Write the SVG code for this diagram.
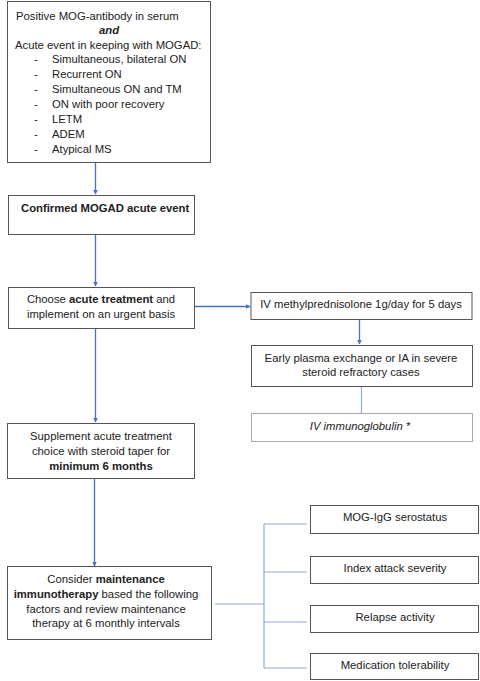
<svg xmlns="http://www.w3.org/2000/svg" width="480" height="681" viewBox="0 0 480 681">
<style>
text{font-family:"Liberation Sans",Arial,sans-serif;font-size:11.3px;fill:#222}
.c{text-anchor:middle}
.b{font-weight:bold}
.box{fill:#fff;stroke:#555;stroke-width:1}
.lbox{fill:#fff;stroke:#aaa;stroke-width:1}
.arr{stroke:#4472C4;stroke-width:1.3;fill:none;marker-end:url(#ah)}
.ln{stroke:#8FAADC;stroke-width:1.2;fill:none}
</style>
<defs>
<marker id="ah" viewBox="0 0 10 10" refX="9" refY="5" markerWidth="5" markerHeight="5" orient="auto" markerUnits="userSpaceOnUse"><path d="M0,0L10,5L0,10z" fill="#4472C4"/></marker>
</defs>
<rect width="480" height="681" fill="#fff"/>
<g id="connectors">
<line class="arr" x1="95.5" y1="163" x2="95.5" y2="194"/>
<line class="arr" x1="95.5" y1="235" x2="95.5" y2="286"/>
<line class="arr" x1="195" y1="306.5" x2="250" y2="306.5"/>
<line class="arr" x1="359.5" y1="320" x2="359.5" y2="344"/>
<line class="ln" x1="361.5" y1="387" x2="361.5" y2="413"/>
<line class="arr" x1="95.5" y1="329" x2="95.5" y2="422"/>
<line class="arr" x1="94.5" y1="479" x2="94.5" y2="566"/>
<path class="ln" d="M215,604H264M264,524V668M264,524H307M264,572H307M264,622H307M264,668H307"/>
</g>
<g id="n1">
<rect class="box" x="7.5" y="1.5" width="203" height="161"/>
<text x="16" y="20">Positive MOG-antibody in serum</text>
<text x="109" y="34" class="c b" font-style="italic">and</text>
<text x="15" y="49">Acute event in keeping with MOGAD:</text>
<g>
<text x="34" y="63">-</text><text x="52" y="63">Simultaneous, bilateral ON</text>
<text x="34" y="78">-</text><text x="52" y="78">Recurrent ON</text>
<text x="34" y="93">-</text><text x="52" y="93">Simultaneous ON and TM</text>
<text x="34" y="108">-</text><text x="52" y="108">ON with poor recovery</text>
<text x="34" y="123">-</text><text x="52" y="123">LETM</text>
<text x="34" y="138">-</text><text x="52" y="138">ADEM</text>
<text x="34" y="153">-</text><text x="52" y="153">Atypical MS</text>
</g>
</g>
<g id="n2">
<rect class="box" x="8.5" y="195.5" width="186" height="39"/>
<text x="21" y="212" class="b">Confirmed MOGAD acute event</text>
</g>
<g id="n3">
<rect class="box" x="8.5" y="287.5" width="186" height="41"/>
<text x="101" y="303" class="c">Choose <tspan class="b">acute treatment</tspan> and</text>
<text x="101" y="318" class="c">implement on an urgent basis</text>
</g>
<g id="n4">
<rect class="box" x="251" y="292.5" width="221" height="27"/>
<text x="361" y="308" class="c">IV methylprednisolone 1g/day for 5 days</text>
</g>
<g id="n5">
<rect class="box" x="251.5" y="345.5" width="221" height="41"/>
<text x="361" y="362" class="c">Early plasma exchange or IA in severe</text>
<text x="361" y="376" class="c">steroid refractory cases</text>
</g>
<g id="n6">
<rect class="lbox" x="251.5" y="413.5" width="221" height="28"/>
<text x="360" y="430" class="c" font-style="italic">IV immunoglobulin *</text>
</g>
<g id="n7">
<rect class="box" x="7.5" y="423.5" width="187" height="55"/>
<text x="101" y="440" class="c">Supplement acute treatment</text>
<text x="101" y="455" class="c">choice with steroid taper for</text>
<text x="101" y="470" class="c b">minimum 6 months</text>
</g>
<g id="n8">
<rect class="box" x="7.5" y="566.5" width="204" height="73"/>
<text x="106" y="583" class="c">Consider <tspan class="b">maintenance</tspan></text>
<text x="106" y="598" class="c"><tspan class="b">immunotherapy</tspan> based the following</text>
<text x="106" y="613" class="c">factors and review maintenance</text>
<text x="106" y="627" class="c">therapy at 6 monthly intervals</text>
</g>
<g id="f1">
<rect class="box" x="310.5" y="505.5" width="168" height="28"/>
<text x="395" y="521" class="c">MOG-IgG serostatus</text>
</g>
<g id="f2">
<rect class="box" x="310.5" y="556.5" width="168" height="27"/>
<text x="395" y="572" class="c">Index attack severity</text>
</g>
<g id="f3">
<rect class="box" x="310.5" y="605.5" width="168" height="27"/>
<text x="395" y="621" class="c">Relapse activity</text>
</g>
<g id="f4">
<rect class="box" x="310.5" y="653.5" width="168" height="26"/>
<text x="395" y="669" class="c">Medication tolerability</text>
</g>
</svg>
